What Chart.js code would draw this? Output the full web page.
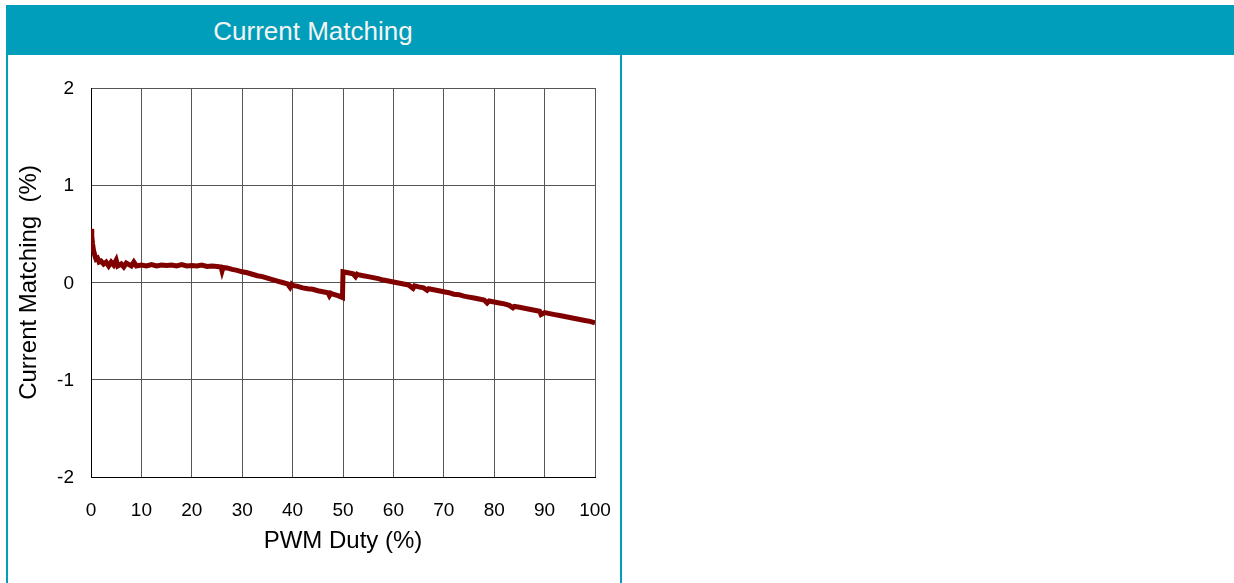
<!DOCTYPE html>
<html>
<head>
<meta charset="utf-8">
<script src="https://cdn.jsdelivr.net/npm/chart.js@4.4.0/dist/chart.umd.min.js"></script>
<style>
  body { margin: 0; background: #fff; width: 1234px; height: 583px; overflow: hidden; position: relative; font-family: "Liberation Sans", Arial, sans-serif; }
  #header { position: absolute; left: 6px; top: 5px; width: 1228px; height: 50px; background: #009ebb; }
  #header span { position: absolute; left: 0; width: 614px; top: 0; line-height: 52px; text-align: center; color: #f4f4f4; font-size: 26px; }
  #panel { position: absolute; left: 6px; top: 55px; width: 612px; height: 540px; border-left: 2px solid #009ebb; border-right: 2px solid #009ebb; }
  #wrap { position: absolute; left: 0; top: 0; width: 620px; height: 583px; }
</style>
</head>
<body>
<div id="header"><span>Current Matching</span></div>
<div id="panel"></div>
<div id="wrap"><canvas id="chart" width="620" height="583"></canvas></div>
<script>
// PWM duty (%) and current matching (%)
var duty = [0, 0.15, 0.3, 0.5, 0.8, 1, 1.3, 1.6, 2, 2.5, 3, 3.5, 4, 4.5, 5, 5.3, 6, 6.5, 7, 8, 8.5, 9,
  10, 11, 12, 13, 14, 15, 16, 17, 18, 19, 20, 21, 22, 23, 24, 25, 25.8, 26, 26.2, 27, 28, 29,
  30, 31, 32, 33, 34, 35, 36, 37, 38, 39, 39.5, 39.8, 40, 41, 42, 43, 44, 45, 46, 47, 47.3, 47.6, 48, 49, 49.9,
  50, 51, 52, 52.5, 52.8, 53, 54, 55, 56, 57, 58, 59, 60, 61, 62, 63, 63.9, 64.2, 65, 66, 66.7, 67, 68, 69,
  70, 71, 72, 73, 74, 75, 76, 77, 78, 78.6, 79, 80, 81, 82, 83, 83.7, 84, 85, 86, 87, 88, 89, 89.3, 90,
  91, 92, 93, 94, 95, 96, 97, 98, 99, 100];
var matching = [0.55, 0.48, 0.40, 0.33, 0.27, 0.24, 0.25, 0.21, 0.22, 0.19, 0.21, 0.17, 0.21, 0.18, 0.23, 0.17, 0.19, 0.16, 0.20, 0.17, 0.21, 0.17,
  0.18, 0.17, 0.185, 0.17, 0.18, 0.175, 0.18, 0.17, 0.185, 0.17, 0.175, 0.17, 0.18, 0.165, 0.17, 0.165, 0.16, 0.12, 0.155, 0.15, 0.135, 0.125,
  0.11, 0.10, 0.085, 0.07, 0.06, 0.045, 0.03, 0.015, 0.0, -0.015, -0.05, -0.02, -0.03, -0.04, -0.055, -0.065, -0.07, -0.085, -0.095, -0.105, -0.135, -0.11, -0.12, -0.135, -0.155,
  0.11, 0.10, 0.09, 0.06, 0.085, 0.08, 0.07, 0.06, 0.05, 0.04, 0.025, 0.015, 0.005, -0.005, -0.015, -0.025, -0.06, -0.035, -0.045, -0.055, -0.08, -0.065, -0.075, -0.085,
  -0.095, -0.105, -0.12, -0.125, -0.14, -0.15, -0.16, -0.17, -0.18, -0.21, -0.19, -0.2, -0.21, -0.22, -0.235, -0.26, -0.245, -0.255, -0.265, -0.275, -0.285, -0.295, -0.33, -0.31,
  -0.32, -0.33, -0.34, -0.35, -0.36, -0.37, -0.38, -0.39, -0.40, -0.415];
var xTicks = [0, 10, 20, 30, 40, 50, 60, 70, 80, 90, 100];
var yTicks = [-2, -1, 0, 1, 2];

var points = duty.map(function(d, i) { return { x: d, y: matching[i] }; });

var ctx = document.getElementById("chart").getContext("2d");
new Chart(ctx, {
  type: "line",
  data: {
    datasets: [{
      data: points,
      borderColor: "#800000",
      borderWidth: 5,
      pointRadius: 0,
      tension: 0,
      fill: false
    }]
  },
  options: {
    responsive: false,
    animation: false,
    layout: { padding: { left: 10, right: 25, top: 88, bottom: 26 } },
    plugins: { legend: { display: false }, tooltip: { enabled: false } },
    scales: {
      x: {
        type: "linear",
        min: 0, max: 100,
        afterBuildTicks: function(scale) { scale.ticks = xTicks.map(function(v) { return { value: v }; }); },
        afterFit: function(scale) { scale.height = 80; scale.paddingLeft = 0; scale.paddingRight = 0; },
        grid: { color: "#555", lineWidth: 1, drawTicks: false },
        border: { color: "#000", width: 1 },
        ticks: { color: "#000", padding: 22, maxRotation: 0, font: { family: "Liberation Sans", size: 19 } },
        title: { display: true, text: "PWM Duty (%)", color: "#000", padding: { top: 0, bottom: 1 }, font: { family: "Liberation Sans", size: 24 } }
      },
      y: {
        min: -2, max: 2,
        afterBuildTicks: function(scale) { scale.ticks = yTicks.map(function(v) { return { value: v }; }); },
        afterFit: function(scale) { scale.width = 81; scale.paddingTop = 0; scale.paddingBottom = 0; },
        grid: { color: "#555", lineWidth: 1, drawTicks: false },
        border: { color: "#000", width: 1 },
        ticks: { color: "#000", padding: 17, labelOffset: 1, font: { family: "Liberation Sans", size: 19 } },
        title: { display: true, text: "Current Matching  (%)", color: "#000", padding: { top: 5, bottom: 0 }, font: { family: "Liberation Sans", size: 24 } }
      }
    }
  }
});
</script>
</body>
</html>
